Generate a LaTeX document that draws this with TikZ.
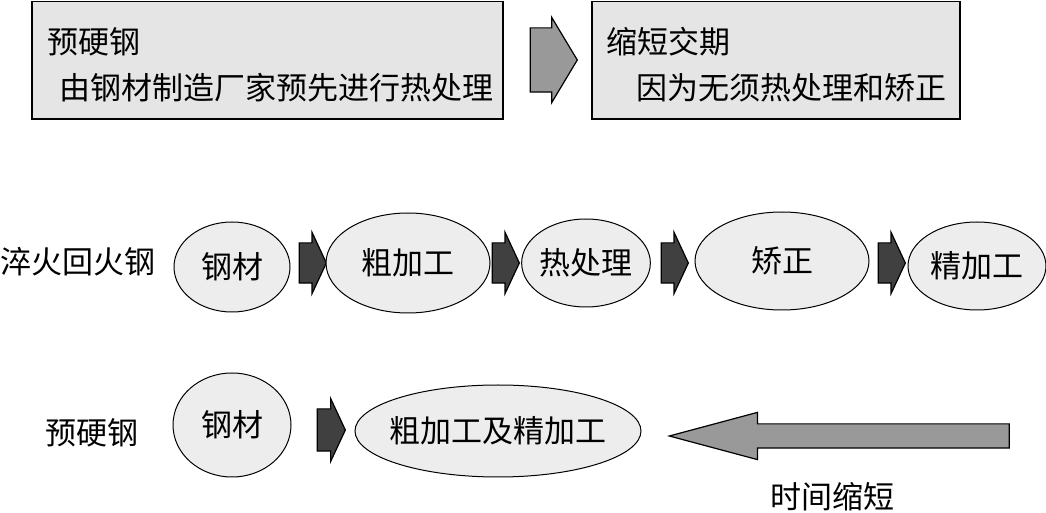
\documentclass[tikz,border=0pt]{standalone}
\usepackage{fontspec}
\setmainfont{Noto Sans CJK SC}
\usetikzlibrary{shapes.geometric,shapes.arrows}

\begin{document}
\begin{tikzpicture}[x=0.5pt,y=-0.5pt]
      \tikzstyle{infobox}=[draw,line width=0.8pt,fill=black!10];
      \tikzstyle{txt}=[font=\fontsize{15.5}{18}\selectfont,inner sep=0pt];
      \tikzstyle{stage}=[txt,ellipse,draw,line width=0.5pt,fill=black!7];
      \tikzstyle{stepper}=[single arrow,draw,line width=0.6pt,fill=black!75,inner xsep=0pt,
        inner ysep=9.75pt,minimum height=13.5pt,single arrow head extend=5.25pt,
        single arrow tip angle=130,anchor=tip];
      \useasboundingbox (0,0) rectangle (1046,513);
      % top row: explanation boxes
      \draw[infobox] (32,1.5) rectangle (503,119);
      \node[txt,anchor=west] (pre) at (47,42) {预硬钢};
      \node[txt,anchor=west] (predesc) at (59,88) {由钢材制造厂家预先进行热处理};
      \node[single arrow,draw,line width=0.6pt,fill=black!40,inner xsep=0pt,inner ysep=15.75pt,
        minimum height=23.5pt,single arrow head extend=5.25pt,
        single arrow tip angle=118,anchor=tip] (gain) at (578,60) {};
      \draw[infobox] (592,1.5) rectangle (960,119);
      \node[txt,anchor=west] (short) at (606,42) {缩短交期};
      \node[txt,anchor=west] (shortdesc) at (636,88) {因为无须热处理和矫正};

      % middle row: quenched and tempered steel
      \node[txt,anchor=west] (qt) at (0,262) {淬火回火钢};
      \node[stage,minimum width=58pt,minimum height=45pt] (qt1) at (232,267) {钢材};
      \node[stepper] (qa1) at (327,263) {};
      \node[stage,minimum width=82pt,minimum height=50pt] (qt2) at (408,263) {粗加工};
      \node[stepper] (qa2) at (520,263) {};
      \node[stage,minimum width=64pt,minimum height=44pt,inner xsep=-0.5pt] (qt3) at (586,263) {热处理};
      \node[stepper] (qa3) at (689,263) {};
      \node[stage,minimum width=87pt,minimum height=49pt] (qt4) at (782,261) {矫正};
      \node[stepper] (qa4) at (906,263) {};
      \node[stage,minimum width=69pt,minimum height=44pt] (qt5) at (977,266) {精加工};

      % bottom row: prehardened steel
      \node[txt,anchor=west] (ph) at (45,433) {预硬钢};
      \node[stage,minimum width=59pt,minimum height=52pt] (ph1) at (232,425) {钢材};
      \node[stepper,minimum height=14pt,inner ysep=10.25pt] (pa1) at (346,430) {};
      \node[stage,minimum width=143pt,minimum height=46pt,inner xsep=-4pt] (ph2) at (498,431) {粗加工及精加工};

      % time saved
      \node[single arrow,draw,line width=0.6pt,fill=black!40,inner xsep=0pt,inner ysep=5.75pt,
        minimum height=170pt,single arrow head extend=5.75pt,
        single arrow tip angle=30,shape border rotate=180,anchor=tip] (saved) at (667,436) {};
      \node[txt] (savedtxt) at (832,497) {时间缩短};
\end{tikzpicture}
\end{document}
